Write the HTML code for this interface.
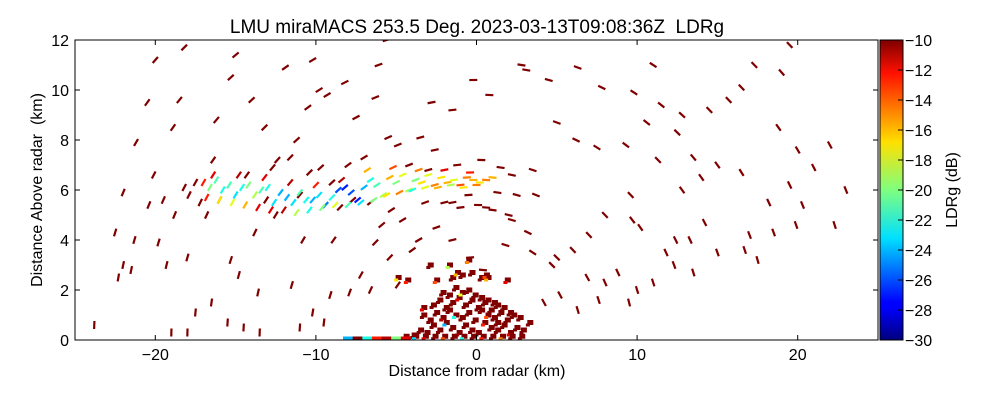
<!DOCTYPE html>
<html><head><meta charset="utf-8">
<style>
body{margin:0;background:#fff;}
svg text{font-family:"Liberation Sans",sans-serif;fill:#000;}
</style></head>
<body>
<svg id="chart" width="1000" height="400" viewBox="0 0 1000 400" xmlns="http://www.w3.org/2000/svg">
<defs>
<linearGradient id="jet" x1="0" y1="1" x2="0" y2="0">
<stop offset="0" stop-color="#00007f"/><stop offset="0.11" stop-color="#0000ff"/>
<stop offset="0.125" stop-color="#0000ff"/><stop offset="0.34" stop-color="#00e0ff"/>
<stop offset="0.5" stop-color="#7fff7f"/><stop offset="0.66" stop-color="#ffe000"/>
<stop offset="0.89" stop-color="#ff1000"/><stop offset="1" stop-color="#7f0000"/>
</linearGradient>
<clipPath id="plotclip"><rect x="75" y="40" width="803" height="300"/></clipPath>
</defs>
<text x="477" y="33" font-size="19" text-anchor="middle">LMU miraMACS 253.5 Deg. 2023-03-13T09:08:36Z&#160;&#160;LDRg</text>
<g id="marks" clip-path="url(#plotclip)"></g>
<rect x="75" y="40" width="803" height="300" fill="none" stroke="#000" stroke-width="1"/>
<g id="axes"></g>
<rect x="880" y="40" width="23" height="300" fill="url(#jet)" stroke="#000" stroke-width="1"/>
<g id="cbticks"></g>
<text x="477" y="376" font-size="16" text-anchor="middle">Distance from radar (km)</text>
<text transform="translate(42,190) rotate(-90)" font-size="16" text-anchor="middle">Distance Above radar&#160;&#160;(km)</text>
<text transform="translate(957,190) rotate(-90)" font-size="16" text-anchor="middle">LDRg (dB)</text>
</svg>
<script>
const xTicks=[-20,-10,0,10,20];
const yTicks=[0,2,4,6,8,10,12];
const cbTicks=[-10,-12,-14,-16,-18,-20,-22,-24,-26,-28,-30];
// dark-red scattered echoes [x km, y km]
const echoX=[-22.3,-22.0,-21.5,-22.5,-22.0,-21.2,-20.5,-20,-23.8,-21.3,-20.4,-20.1,-19.5,-18.8,-18.9,-18.5,-18.2,-19.8,-18.0,-18.2,-17.5,-17.2,-16.4,-16.2,-15.3,-15.0,-14,-13.2,-13.8,-12.4,-11.9,-11.2,-10.5,-10.2,-9.8,-9.3,-8.2,-7.5,-6.3,-6.1,-5.6,-5.5,-4.9,-3.5,-2.8,-1.5,-0.2,0.8,2.8,3.1,4.5,6.3,7.8,9.8,11.0,11.5,12.5,13.5,14.5,15.7,16.5,17.3,19.0,19.5,18.8,20.0,21.0,22.0,23.0,22.3,20.3,19.5,18.2,17.0,16.5,15.0,14.2,13.3,12.4,11.8,10.2,9.7,8.0,7.0,6.0,5.0,4.7,8.8,8.0,7.6,6.3,5.2,4.2,12.3,13.5,15.0,16.7,17.5,18.5,19.9,11.0,9.5,10.0,6.9,12.8,14.0,11.3,9.3,7.5,6.2,5.0,9.6,12.8,10.6,-19.0,-18.0,-17.5,-16.5,-15.5,-14.5,-15.3,-14.8,-13.6,-11.5,-10.2,-9.5,-9.1,-7.9,-7.2,-6.6,-5.4,-4.9,-4.0,-3.6,-6.3,-8.9,-10.8,-12.5,-13.1,-11.0,-9.7,-9.0,-8.5,-7.7,-6.6,-5.9,-5.3,-4.6,-3.2,-2.5,-1.5,-0.5,0.6,1.3,2.5,3.7,2.2,1.8,3.2,3.5,-2.6,-1.2,0.3,1.5,2.2,3.5,-1.5,-0.4,0.4,-16.8,-16.0,-14.3,-12.7,-11.6,-10.4,-8.0,-7.0,-4.2,-3.0,-2.0,-1.0,0.1,1.0,2.0,-13.5,-11.0,-19.3,-17.9];
const echoY=[2.5,3.0,2.8,4.3,5.9,7.9,9.5,11.2,0.6,4.0,5.4,6.6,5.6,5.0,8.5,9.6,11.7,3.9,3.3,6.1,6.3,5.5,7.2,8.8,10.5,11.4,9.6,8.5,4.3,7.2,10.9,8.0,9.3,11.2,10.0,9.8,10.3,8.9,9.7,11.0,12,8.1,7.8,8.1,9.5,9.2,10.4,9.8,11.0,10.8,10.4,10.9,10.1,9.9,11.0,9.4,8.3,7.3,9.2,9.6,10.1,11.0,10.7,11.8,8.5,7.6,6.9,7.8,6.0,4.6,5.4,6.2,5.5,4.2,6.7,7.0,4.7,4.0,4.0,3.5,4.5,4.8,5.0,4.2,3.6,3.3,3.0,2.7,2.3,1.6,1.2,1.8,1.5,3.0,2.7,3.5,3.6,3.2,4.3,4.6,2.3,1.5,2.0,2.5,6.0,6.5,7.2,7.8,7.7,8.0,8.7,5.8,9.0,8.7,0.3,0.3,1.1,1.5,0.7,0.5,3.2,2.6,1.9,2.2,1.1,0.7,1.8,1.9,2.6,2.0,3.3,2.2,3.6,4.0,3.9,4.0,4.0,5.0,5.6,5.8,6.9,6.3,5.3,5.6,5.5,4.6,5.2,4.8,5.5,4.5,5.5,5.8,5.3,5.9,5.8,5.8,4.8,3.8,4.3,3.5,7.6,7.0,7.2,6.9,6.6,6.8,4.0,3.3,2.8,5.0,5.6,6.6,6.9,7.3,6.7,7.0,7.3,7.0,6.8,5.5,5.3,5.4,5.2,5.0,0.3,0.5,3.0,5.8];
// colored cloud band [x km, y km, LDR dB]
const bandX=[-17.0,-16.6,-16.2,-15.8,-15.4,-15.0,-14.6,-14.2,-13.8,-13.4,-13.0,-12.6,-12.2,-11.8,-11.4,-11.0,-10.6,-10.2,-9.8,-9.4,-9.0,-8.6,-8.2,-7.8,-7.4,-7.0,-6.6,-6.2,-5.8,-5.4,-5.0,-4.6,-4.2,-3.8,-3.4,-3.0,-2.6,-2.2,-1.8,-1.4,-1.0,-0.6,-0.2,0.2,0.6,1.0,-16.8,-16.0,-15.2,-14.4,-13.6,-12.8,-12.0,-11.2,-10.4,-9.6,-8.8,-8.0,-7.2,-6.4,-5.6,-4.8,-4.0,-3.2,-2.4,-1.6,-0.8,0.0,-16.4,-14.8,-13.2,-11.6,-10.0,-8.4,-6.8,-5.2,-3.6,-2.0,-0.4];
const bandY=[6.3,6.1,6.4,6.0,6.2,5.8,6.1,6.2,5.8,6.0,6.1,5.5,5.9,5.7,5.5,5.9,5.6,5.6,5.8,5.4,5.7,6.0,6.1,5.9,5.6,6.1,6.4,6.2,5.8,6.5,6.3,6.6,6.0,6.4,6.3,6.6,6.2,6.5,6.3,6.4,6.2,6.5,6.4,6.3,6.4,6.5,5.7,5.6,5.5,5.4,5.3,5.2,5.2,5.1,5.2,5.3,5.4,5.4,5.5,5.6,5.8,5.9,6.0,6.1,6.1,6.2,6.1,6.2,6.6,6.6,6.5,6.3,6.2,6.4,6.8,6.9,6.8,6.8,6.7];
const bandV=[-13,-20,-21,-22,-21,-23,-22,-20,-19,-21,-22,-23,-24,-24,-23,-21,-22,-24,-23,-25,-22,-26,-27,-26,-27,-24,-22,-21,-19,-16,-20,-18,-19,-20,-17,-18,-15,-17,-16,-18,-14,-15,-16,-17,-15,-16,-13,-17,-18,-16,-12,-12,-11,-19,-22,-20,-18,-21,-23,-20,-17,-15,-22,-18,-16,-19,-17,-15,-12,-11,-12,-11,-13,-11,-16,-14,-15,-12,-13];
// ground clutter near radar [x km, y km, LDR dB]
const clutX=[-4.0,-3.6,-3.2,-2.8,-2.4,-2.0,-1.6,-1.2,-0.8,-0.4,0.0,0.4,0.8,1.2,1.6,2.0,2.4,2.8,3.2,-3.4,-3.0,-2.6,-2.2,-1.8,-1.4,-1.0,-0.6,-0.2,0.2,0.6,1.0,1.4,1.8,2.2,2.6,-2.8,-2.4,-2.0,-1.6,-1.2,-0.8,-0.4,0.0,0.4,0.8,1.2,1.6,2.0,-2.2,-1.8,-1.4,-1.0,-0.6,-0.2,0.2,0.6,1.0,-1.6,-1.0,-0.4,0.2,-2.6,-4.4,-5.0,-3.0,-1.8,-0.6,0.6,1.8,-4.5,-3.9,-3.3,-2.7,-2.1,-1.5,-0.9,-0.3,0.3,0.9,1.5,2.1,2.7,-1.3,0.5,-3.4,1.2];
const clutY=[0.1,0.3,0.2,0.5,0.3,0.6,0.4,0.2,0.5,0.3,0.2,0.6,0.4,0.3,0.5,0.2,0.4,0.3,0.6,0.9,0.7,1.0,0.8,1.1,0.9,0.8,1.0,0.7,1.1,0.9,0.8,1.0,0.7,0.9,0.8,1.3,1.5,1.2,1.4,1.6,1.3,1.5,1.2,1.4,1.1,1.3,1.2,1.0,1.8,1.7,2.0,1.8,1.9,1.7,1.6,1.5,1.4,2.4,2.5,2.6,2.4,2.3,2.3,2.4,2.9,2.9,3.1,2.4,2.3,0.05,0.05,0.05,0.05,0.05,0.05,0.05,0.05,0.05,0.05,0.05,0.05,0.05,2.6,2.5,1.2,0.6];
const clutV=[-10,-10,-11,-10,-10,-24,-10,-11,-10,-10,-10,-13,-10,-10,-10,-12,-10,-10,-10,-10,-10,-10,-11,-10,-22,-10,-10,-10,-10,-14,-10,-10,-10,-10,-10,-10,-10,-10,-10,-12,-10,-10,-10,-10,-10,-10,-10,-10,-10,-10,-10,-18,-10,-10,-10,-10,-10,-10,-10,-10,-10,-14,-13,-17,-10,-19,-15,-16,-12,-11,-23,-12,-10,-14,-10,-22,-10,-13,-10,-15,-10,-10,-16,-14,-12,-10];
// low-elevation strip along the ground
const stripX=[-8.0,-7.4,-6.8,-6.2,-5.6,-5.0,-4.4];
const stripV=[-24,-10,-22,-13,-11,-20,-12];

const X0=75,X1=878,Y0=340,Y1=40,XMIN=-25,XMAX=25,YMIN=0,YMAX=12,CMIN=-30,CMAX=-10;
const sx=v=>X0+(v-XMIN)/(XMAX-XMIN)*(X1-X0);
const sy=v=>Y0-(v-YMIN)/(YMAX-YMIN)*(Y0-Y1);
const sc=v=>Y0-(v-CMIN)/(CMAX-CMIN)*(Y0-Y1);
function jet(v){let t=(v-CMIN)/(CMAX-CMIN);t=Math.max(0,Math.min(1,t));
 const f=x=>Math.max(0,Math.min(1,x));
 const r=f(1.5-Math.abs(4*t-3)),g=f(1.5-Math.abs(4*t-2)),b=f(1.5-Math.abs(4*t-1));
 return `rgb(${Math.round(r*255)},${Math.round(g*255)},${Math.round(b*255)})`;}
const NS="http://www.w3.org/2000/svg";
const marks=document.getElementById('marks');
function dash(x,y,v,len){
 const px=sx(x),py=sy(y);const dx=px-sx(0),dy=py-sy(0);const d=Math.hypot(dx,dy)||1;
 const ux=-dy/d*len/2,uy=dx/d*len/2;
 const l=document.createElementNS(NS,'line');
 l.setAttribute('x1',px-ux);l.setAttribute('y1',py-uy);l.setAttribute('x2',px+ux);l.setAttribute('y2',py+uy);
 l.setAttribute('stroke',jet(v));l.setAttribute('stroke-width','2.2');
 
 
 marks.appendChild(l);}
function cell(x,y,v,w,h){
 const r=document.createElementNS(NS,'rect');
 r.setAttribute('x',sx(x)-w/2);r.setAttribute('y',sy(y)-h/2);r.setAttribute('width',w);r.setAttribute('height',h);
 r.setAttribute('fill',jet(v));
 
 
 marks.appendChild(r);}
echoX.forEach((x,i)=>dash(x,echoY[i],-10,8));
bandX.forEach((x,i)=>dash(x,bandY[i],bandV[i],8));
clutX.forEach((x,i)=>{cell(x+0.15,clutY[i]+0.1,-10,6,5);cell(x,clutY[i],clutV[i],4,3);});
stripX.forEach((x,i)=>cell(x,0.08,stripV[i],10,3));

const axes=document.getElementById('axes');
function tick(x1,y1,x2,y2,name){const l=document.createElementNS(NS,'line');
 l.setAttribute('x1',x1);l.setAttribute('y1',y1);l.setAttribute('x2',x2);l.setAttribute('y2',y2);l.setAttribute('stroke','#000');
 
 
 return l;}
function label(x,y,s,anchor,name,parent){const t=document.createElementNS(NS,'text');
 t.setAttribute('x',x);t.setAttribute('y',y);t.setAttribute('font-size','16');t.setAttribute('text-anchor',anchor);t.textContent=s;
 
 
 parent.appendChild(t);}
xTicks.forEach(v=>{const p=sx(v);axes.appendChild(tick(p,Y0,p,Y0-5,'x-tick'));axes.appendChild(tick(p,Y1,p,Y1+5,'x-tick-top'));
 label(p,Y0+20,v<0?'\u2212'+(-v):String(v),'middle','x-tick-label',axes);});
yTicks.forEach(v=>{const p=sy(v);axes.appendChild(tick(X0,p,X0+5,p,'y-tick'));axes.appendChild(tick(X1,p,X1-5,p,'y-tick-right'));
 label(X0-6,p+6,String(v),'end','y-tick-label',axes);});
const cbg=document.getElementById('cbticks');
cbTicks.forEach(v=>{const p=sc(v);cbg.appendChild(tick(898,p,903,p,'colorbar-tick'));
 label(905,p+6,'\u2212'+(-v),'start','colorbar-tick-label',cbg);});
</script>
</body></html>
